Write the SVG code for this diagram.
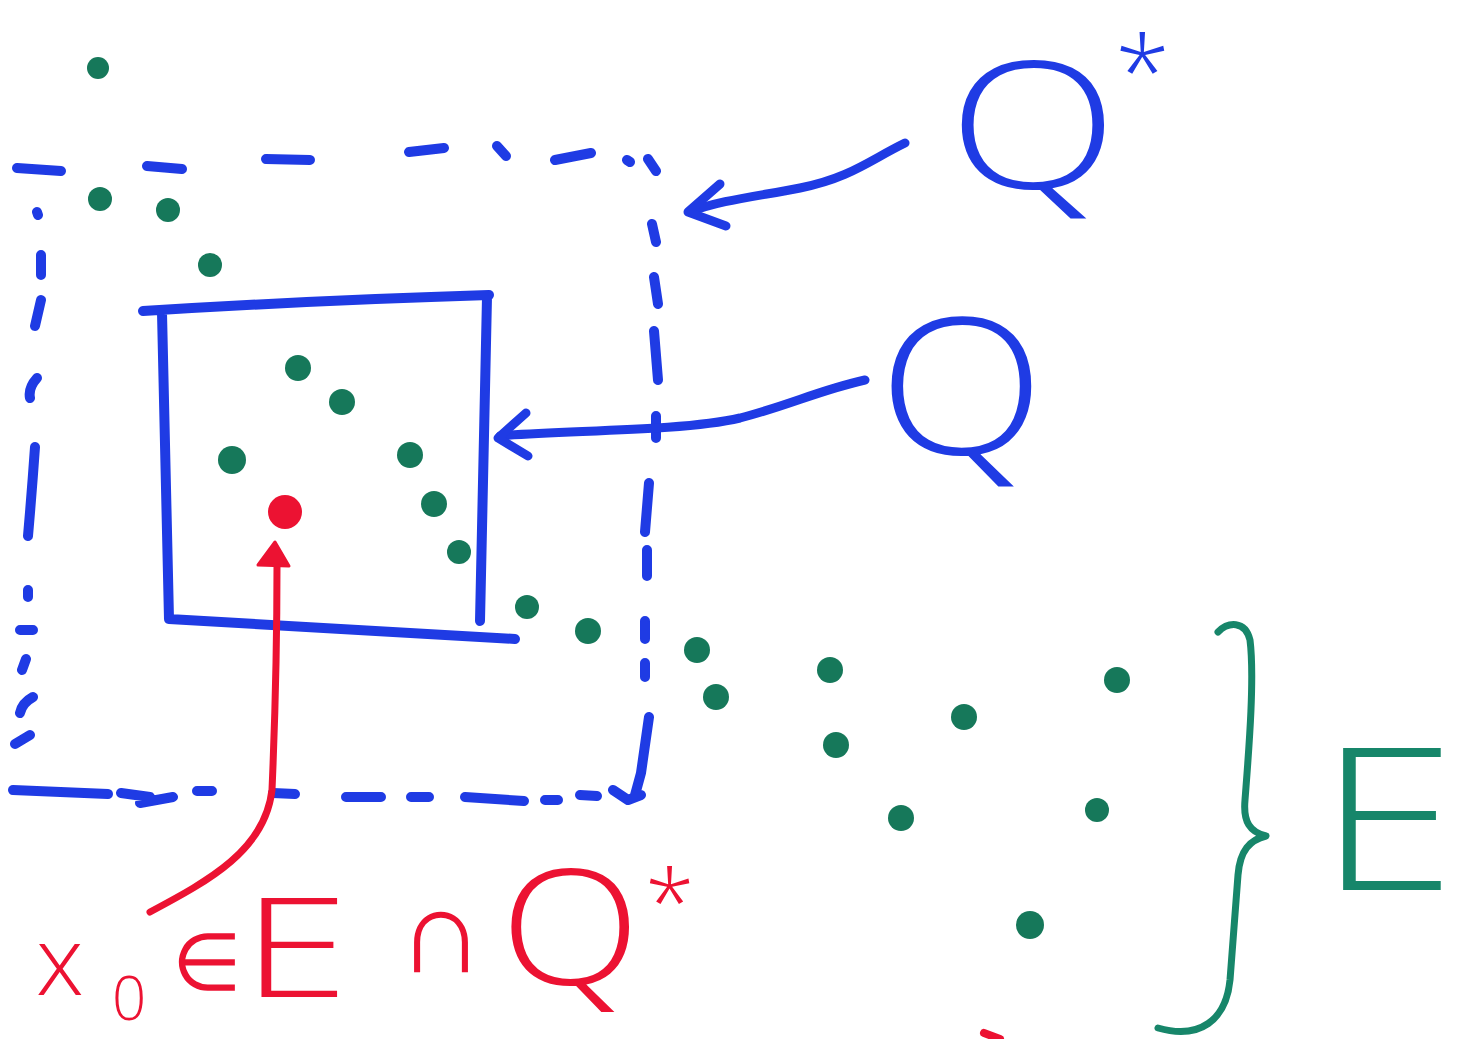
<svg xmlns="http://www.w3.org/2000/svg" width="1466" height="1039" viewBox="0 0 1466 1039">
<style>
.blue{fill:none;stroke:#1f3be4;stroke-linecap:round;stroke-linejoin:round}
.dash{stroke-width:10}
.solid{stroke-width:10}
.arr{stroke-width:9}
.pt{fill:#16785a}
.red{fill:none;stroke:#ec1232;stroke-linecap:round;stroke-linejoin:round}
.lbl{font-family:"Open Sans","Liberation Sans","DejaVu Sans",sans-serif;font-weight:300}
</style>
<rect width="1466" height="1039" fill="#ffffff"/>

<g id="Qstar-box">
<path class="blue dash" d="M17,168 L61,171 M147,166 L182,169 M266,159 L310,160 M409,152 L444,148 M497,146 L506,156 M555,160 L591,153 M627,160 L630,162 M648,159 L656,171
M37,212 L38,215 M41,255 L41,275 M41,300 L35,326 M37,378 Q28,388 30,398 M35,447 Q32,490 28,536 M28,590 L28,597 M20,630 L33,630 M26,659 L22,670 M33,697 Q22,703 20,713 M30,735 L15,744
M652,224 L656,242 M654,277 L658,304 M654,331 L658,380 M656,416 L656,438 M649,483 L645,532 M647,550 L647,576 M645,621 L645,639 M645,663 L645,677 M649,717 L641,773 L635,795
M13,790 L108,794 M121,793 L150,797 L140,803 L173,797 M197,791 L212,791 M273,793 L295,794 M346,797 L381,797 M411,797 L429,797 M465,797 L524,801 M545,800 L558,800 M580,795 L597,796 M613,790 L628,800 L641,795"/>
</g>

<g id="Q-box">
<path class="blue solid" d="M143,311 Q320,300 489,295 M162,313 L169,619 L515,639 M487,297 L480,621"/>
</g>

<g id="points-E">
<circle class="pt" cx="98" cy="68" r="11"/>
<circle class="pt" cx="100" cy="199" r="12"/>
<circle class="pt" cx="168" cy="210" r="12"/>
<circle class="pt" cx="210" cy="265" r="12"/>
<circle class="pt" cx="298" cy="368" r="13"/>
<circle class="pt" cx="342" cy="402" r="13"/>
<circle class="pt" cx="232" cy="460" r="14"/>
<circle class="pt" cx="410" cy="455" r="13"/>
<circle class="pt" cx="434" cy="504" r="13"/>
<circle class="pt" cx="459" cy="552" r="12"/>
<circle class="pt" cx="527" cy="607" r="12"/>
<circle class="pt" cx="588" cy="631" r="13"/>
<circle class="pt" cx="697" cy="650" r="13"/>
<circle class="pt" cx="716" cy="697" r="13"/>
<circle class="pt" cx="830" cy="670" r="13"/>
<circle class="pt" cx="836" cy="745" r="13"/>
<circle class="pt" cx="964" cy="717" r="13"/>
<circle class="pt" cx="1117" cy="680" r="13"/>
<circle class="pt" cx="1097" cy="810" r="12"/>
<circle class="pt" cx="901" cy="818" r="13"/>
<circle class="pt" cx="1030" cy="925" r="14"/>
</g>

<g id="x0">
<circle cx="285" cy="512" r="17" fill="#ec1232"/>
</g>

<g id="connectors">
<path class="blue arr" d="M905,143 C870,160 850,178 800,188 C760,196 720,200 690,212"/>
<path class="blue arr" d="M720,184 L688,212 L726,226"/>
<path class="blue arr" d="M865,380 C820,390 790,405 740,418 C680,432 560,430 500,436"/>
<path class="blue arr" d="M526,413 L498,438 L528,456"/>
<path class="red" stroke-width="7" d="M277,565 C277,650 275,720 272,790 C265,850 210,880 150,912"/>
<path d="M258,565 L275,542 L289,566 Z" fill="#ec1232" stroke="#ec1232" stroke-width="3" stroke-linejoin="round"/>
<path class="red" stroke-width="8" d="M984,1033 L1000,1039"/>
</g>

<g id="brace-E">
<path fill="none" stroke="#17866a" stroke-width="7" stroke-linecap="round" stroke-linejoin="round" d="M1218,632 C1228,622 1245,620 1250,640 C1255,680 1248,760 1245,800 C1243,822 1250,832 1266,836 C1250,840 1240,850 1238,875 L1230,980 C1226,1020 1200,1040 1158,1028"/>
</g>

<g id="label-Qstar" class="lbl" fill="#1f3be4">
<text transform="translate(948,188) scale(1.25,1)" font-size="178">Q</text>
<text x="1115" y="108" font-size="100">*</text>
</g>

<g id="label-Q" class="lbl" fill="#1f3be4">
<text transform="translate(878,454) scale(1.15,1)" font-size="190">Q</text>
</g>

<g id="label-E" class="lbl" fill="#17866a">
<text transform="translate(1318,890) scale(1.25,1)" font-size="200">E</text>
</g>

<g id="label-x0" class="lbl" fill="#ec1232">
<text x="36" y="995" font-size="96">x</text>
<text x="112" y="1020" font-size="60">0</text>
<text x="172" y="990" font-size="80">∈</text>
<text transform="translate(242,997) scale(1.55,1.1)" font-size="125">E</text>
<text x="398" y="972" font-size="120">∩</text>
<text transform="translate(500,985) scale(1.15,1)" font-size="160">Q</text>
<text x="645" y="935" font-size="90">*</text>
</g>
</svg>
